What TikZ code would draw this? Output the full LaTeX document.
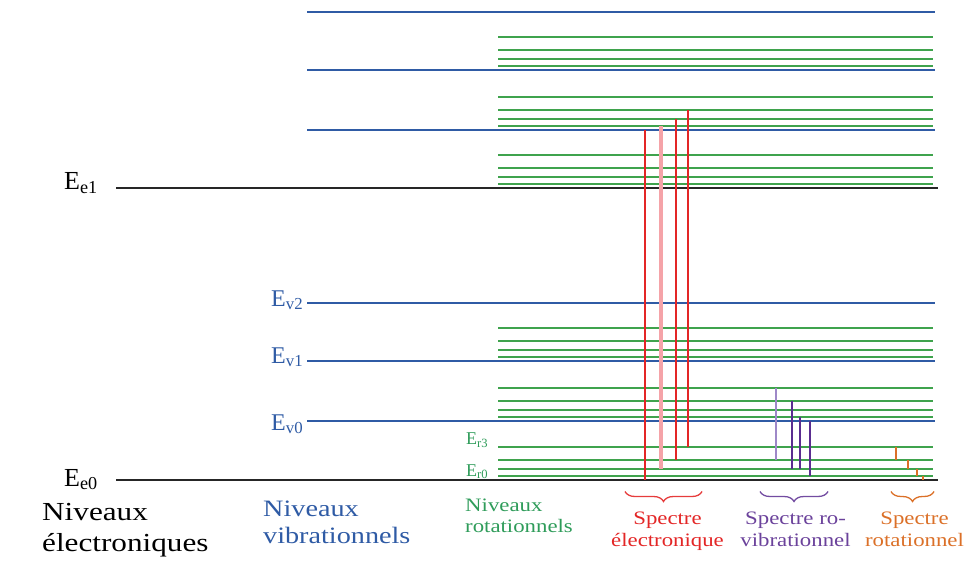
\documentclass[tikz,border=0pt]{standalone}
\usepackage{fontspec}
\setmainfont{Liberation Serif}
\newfontfamily\capfont{Liberation Serif}[FakeStretch=1.2]
\usetikzlibrary{decorations.pathreplacing}

\definecolor{levblue}{HTML}{2F5BA5}
\definecolor{levgreen}{HTML}{3FA34D}
\definecolor{txtgreen}{HTML}{2F9C5A}
\definecolor{trred}{HTML}{E32626}
\definecolor{trpink}{HTML}{F5A3A8}
\definecolor{trlav}{HTML}{9E88C8}
\definecolor{trpurple}{HTML}{5A2D90}
\definecolor{trorange}{HTML}{DB7028}

\begin{document}
\begin{tikzpicture}[x=1pt,y=-1pt,
  elev/.style={line width=2pt,draw=black!85},
  vlev/.style={line width=1.6pt,draw=levblue},
  rlev/.style={line width=1.8pt,draw=levgreen},
  tr/.style={line width=2pt},
  spbrace/.style={decorate,decoration={brace,mirror,amplitude=10pt},line width=1.3pt},
  elabel/.style={inner sep=0pt,anchor=base west,font=\fontsize{26}{28}\selectfont},
  vlabel/.style={inner sep=0pt,anchor=base west,text=levblue,font=\fontsize{24}{26}\selectfont},
  rlabel/.style={inner sep=0pt,anchor=base west,text=txtgreen,font=\fontsize{18}{20}\selectfont},
  caption/.style={inner sep=0pt,anchor=north,align=center,font=\capfont\fontsize{19}{22}\selectfont}]
  \useasboundingbox (0,0) rectangle (979,569);

  % rotational levels above each vibrational level
  \foreach \b in {480,421,361,188,130,70}
    \foreach \r in {4,11,20,33}
      \draw[rlev] (498,\b-\r) -- (933,\b-\r);
  % vibrational levels
  \foreach \y in {421,361,303,130,70,12}
    \draw[vlev] (307,\y) -- (935,\y);
  % electronic levels
  \draw[elev] (116,188) -- (938,188);
  \draw[elev] (116,480) -- (938,480);

  % electronic transitions
  \draw[tr,trred]  (645,480) -- (645,130);
  \draw[tr,trpink,line width=4pt] (661,469) -- (661,126);
  \draw[tr,trred]  (676,460) -- (676,119);
  \draw[tr,trred]  (688,447) -- (688,110);
  % ro-vibrational transitions
  \draw[tr,trlav]    (776,460) -- (776,388);
  \draw[tr,trpurple] (792,469) -- (792,401);
  \draw[tr,trpurple] (800,469) -- (800,417);
  \draw[tr,trpurple] (810,476) -- (810,421);
  % rotational transitions
  \draw[tr,trorange] (896,460) -- (896,447);
  \draw[tr,trorange] (907.5,469) -- (907.5,460);
  \draw[tr,trorange] (917,476) -- (917,469);
  \draw[tr,trorange] (923,480) -- (923,476);

  % level labels
  \node[elabel] (ee1) at (64,189.5) {E\textsubscript{e1}};
  \node[elabel] (ee0) at (64,486) {E\textsubscript{e0}};
  \node[vlabel] (ev2) at (271,306) {E\textsubscript{v2}};
  \node[vlabel] (ev1) at (271,363) {E\textsubscript{v1}};
  \node[vlabel] (ev0) at (271,430) {E\textsubscript{v0}};
  \node[rlabel] (er3) at (466,444.5) {E\textsubscript{r3}};
  \node[rlabel] (er0) at (466,476) {E\textsubscript{r0}};

  % braces
  \draw[spbrace,draw=trred!90]    (625,491.5) -- (702,491.5);
  \draw[spbrace,draw=trpurple!85] (760,491.5) -- (828,491.5);
  \draw[spbrace,draw=trorange]    (891,491.5) -- (934,491.5);

  % captions
  \node[caption,anchor=north west,align=left,font=\capfont\fontsize{26}{31}\selectfont] (nelec) at (42,503) {Niveaux\\électroniques};
  \node[caption,anchor=north west,align=left,text=levblue,font=\capfont\fontsize{23.5}{27.5}\selectfont] (nvib) at (263,500.5) {Niveaux\\vibrationnels};
  \node[caption,anchor=north west,align=left,text=txtgreen,font=\capfont\fontsize{19}{21}\selectfont] (nrot) at (465,498.5) {Niveaux\\rotationnels};
  \node[caption,text=trred] (selec) at (667.5,511.5) {Spectre\\électronique};
  \node[caption,text=trpurple!90] (srovib) at (795.5,511.5) {Spectre ro-\\vibrationnel};
  \node[caption,text=trorange] (srot) at (914.5,511.5) {Spectre\\rotationnel};
\end{tikzpicture}
\end{document}
